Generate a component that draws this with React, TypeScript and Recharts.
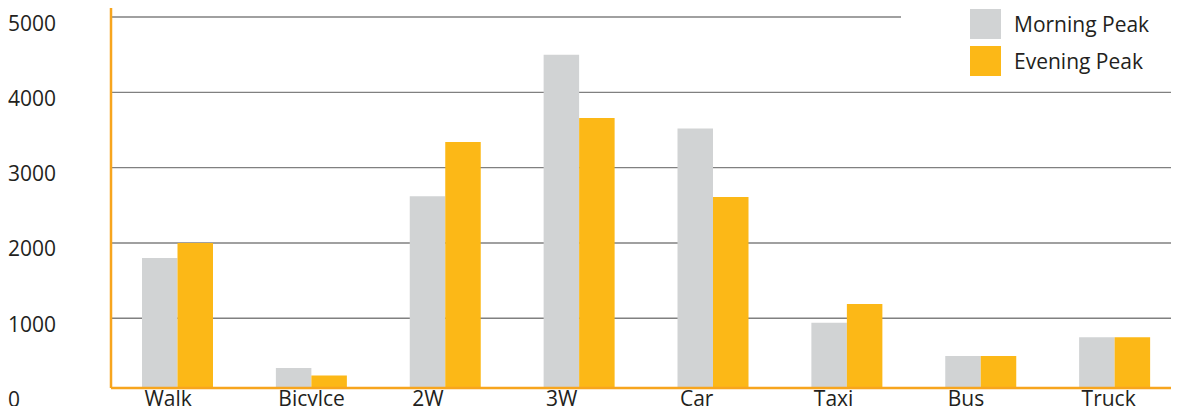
import React from 'react';
import { BarChart, Bar, XAxis, YAxis, CartesianGrid } from 'recharts';

const categories = ['Walk', 'Bicylce', '2W', '3W', 'Car', 'Taxi', 'Bus', 'Truck'];
const morningPeak = [1800, 340, 2620, 4500, 3520, 940, 500, 750];
const eveningPeak = [2000, 240, 3340, 3660, 2610, 1190, 500, 750];
const yTicks = [0, 1000, 2000, 3000, 4000, 5000];

const series = [
  { key: 'morning', name: 'Morning Peak', color: '#D1D3D4' },
  { key: 'evening', name: 'Evening Peak', color: '#FCB817' },
];

const data = categories.map((name, i) => ({
  name,
  morning: morningPeak[i],
  evening: eveningPeak[i],
}));

const TEXT = '#231F20';
const AXIS = '#F7A51E';
const BAR_SIZE = 35.5;
const CHART_H = 414;
const X_AXIS_H = 26;
const PLOT_BOTTOM = CHART_H - X_AXIS_H;

const YTick = ({ y, payload }: any) => (
  <text x={8} y={y + 13.5} fill={TEXT} fontSize={21} textAnchor="start">
    {payload.value}
  </text>
);

// labels start at the left edge of the first bar in each group
const XTick = ({ x, payload }: any) => (
  <text x={x - BAR_SIZE + 2} y={PLOT_BOTTOM + 18} fill={TEXT} fontSize={21} textAnchor="start">
    {payload.value}
  </text>
);

const App: React.FC = () => {
  return (
    <div
      style={{
        position: 'relative',
        margin: -8,
        width: 1179,
        height: CHART_H,
        overflow: 'hidden',
        fontFamily: '"Open Sans", sans-serif',
        background: '#fff',
      }}
    >
      <BarChart
        width={1190}
        height={CHART_H}
        data={data}
        margin={{ top: 8, right: 8, left: 0, bottom: 0 }}
        barGap={0}
        barSize={BAR_SIZE}
        style={{ overflow: 'visible' }}
      >
        <CartesianGrid
          vertical={false}
          horizontalValues={[1000, 2000, 3000, 4000, 5000]}
          stroke="#808080"
          strokeWidth={1.4}
        />
        {series.map((s) => (
          <Bar key={s.key} dataKey={s.key} name={s.name} fill={s.color} isAnimationActive={false} />
        ))}
        <XAxis
          dataKey="name"
          height={X_AXIS_H}
          tickLine={false}
          tickSize={0}
          tickMargin={0}
          axisLine={{ stroke: AXIS, strokeWidth: 2.5 }}
          tick={<XTick />}
          interval={0}
        />
        <YAxis
          width={111}
          domain={[75, 5000]}
          ticks={yTicks}
          interval={0}
          padding={{ top: 9 }}
          tickLine={false}
          axisLine={{ stroke: AXIS, strokeWidth: 2.5 }}
          tick={<YTick />}
        />
      </BarChart>
      <div
        style={{
          position: 'absolute',
          left: 901,
          top: 0,
          width: 278,
          height: 86,
          background: '#fff',
        }}
      >
        {series.map((s, i) => (
          <div
            key={s.key}
            style={{
              position: 'absolute',
              left: 69,
              top: 9 + i * 37,
              display: 'flex',
              alignItems: 'center',
              height: 30,
            }}
          >
            <div style={{ width: 31, height: 30, background: s.color }} />
            <span style={{ marginLeft: 13, fontSize: 21, color: TEXT, whiteSpace: 'nowrap' }}>{s.name}</span>
          </div>
        ))}
      </div>
    </div>
  );
};

export default App;
